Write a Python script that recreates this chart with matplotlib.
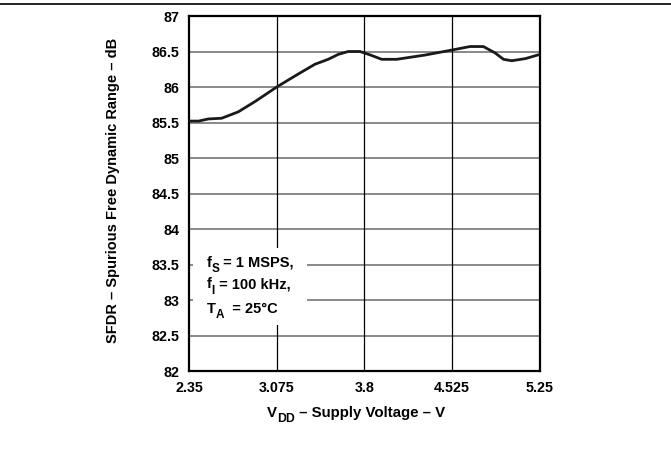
import matplotlib
matplotlib.use("Agg")
import matplotlib.pyplot as plt
from matplotlib.lines import Line2D
from matplotlib.patches import Rectangle

plt.rcParams['font.family'] = ['Liberation Sans', 'DejaVu Sans']
plt.rcParams['font.weight'] = 'bold'

# Data
vdd = [2.35, 2.43, 2.51, 2.62, 2.757, 2.90, 3.075, 3.23, 3.39, 3.50, 3.584,
       3.666, 3.763, 3.85, 3.942, 4.066, 4.30, 4.52, 4.672, 4.782, 4.879,
       4.948, 5.017, 5.13, 5.25]
sfdr = [85.52, 85.52, 85.55, 85.56, 85.65, 85.80, 86.00, 86.16, 86.32, 86.39, 86.46,
        86.50, 86.50, 86.45, 86.39, 86.39, 86.45, 86.52, 86.57, 86.57, 86.48,
        86.39, 86.37, 86.40, 86.46]

xticks = [2.35, 3.075, 3.8, 4.525, 5.25]
xticklabels = ['2.35', '3.075', '3.8', '4.525', '5.25']
yticks = [82, 82.5, 83, 83.5, 84, 84.5, 85, 85.5, 86, 86.5, 87]
yticklabels = ['82', '82.5', '83', '83.5', '84', '84.5', '85', '85.5', '86', '86.5', '87']

W, H = 671, 467
fig = plt.figure(figsize=(W / 100, H / 100), dpi=100)
L, R, T, B = 189, 540, 16, 371
ax = fig.add_axes([L / W, 1 - B / H, (R - L) / W, (B - T) / H])

ax.set_xlim(2.35, 5.25)
ax.set_ylim(82, 87)
ax.set_xticks(xticks)
ax.set_xticklabels(xticklabels)
ax.set_yticks(yticks)
ax.set_yticklabels(yticklabels)
ax.tick_params(length=0, labelsize=10.3, pad=7)
for lab in ax.get_xticklabels() + ax.get_yticklabels():
    lab.set_fontweight('bold')

for y in yticks[1:-1]:
    ax.axhline(y, color='#808080', lw=1.3, zorder=1)
for x in xticks[1:-1]:
    ax.axvline(x, color='black', lw=0.9, zorder=1)

for s in ax.spines.values():
    s.set_linewidth(1.6)
    s.set_color('black')

ax.plot(vdd, sfdr, color='#1a1a1a', lw=2.0, zorder=3, solid_capstyle='round')

# white box behind the conditions text
ax.add_patch(Rectangle((193 / W, 1 - 325 / H), (307 - 193) / W, (325 - 248) / H,
                       transform=fig.transFigure, facecolor='white', edgecolor='none',
                       zorder=2))

renderer = fig.canvas.get_renderer()


def rich(parts, x_px, base_px, main_size, sub_size, drop_px, zorder=5):
    """parts: list of (string, is_subscript). Positions in image pixels."""
    x = x_px
    for s, sub in parts:
        size = sub_size if sub else main_size
        y = base_px + (drop_px if sub else 0)
        t = fig.text(x / W, 1 - y / H, s, fontsize=size, fontweight='bold',
                     ha='left', va='baseline', zorder=zorder)
        x += t.get_window_extent(renderer).width


rich([('f', False), ('S', True), (' = 1 MSPS,', False)], 206.5, 266.7, 10.5, 8.5, 5.3)
rich([('f', False), ('I', True), (' = 100 kHz,', False)], 206.5, 288.3, 10.5, 8.5, 5.3)
rich([('T', False), ('A', True), ('  = 25°C', False)], 206.5, 312.7, 10.5, 8.5, 5.0)

rich([('V', False), ('DD', True), (' – Supply Voltage – V', False)], 267, 416.7, 10.8, 8.8, 5.4)

fig.text(113 / W, 1 - 190 / H, 'SFDR – Spurious Free Dynamic Range – dB', rotation=90,
         ha='center', va='center', fontsize=10.5, fontweight='bold')

fig.add_artist(Line2D([0, 1], [1 - 3.5 / H, 1 - 3.5 / H], transform=fig.transFigure,
                      color='black', lw=1.2))

fig.savefig('out.png', dpi=100)
